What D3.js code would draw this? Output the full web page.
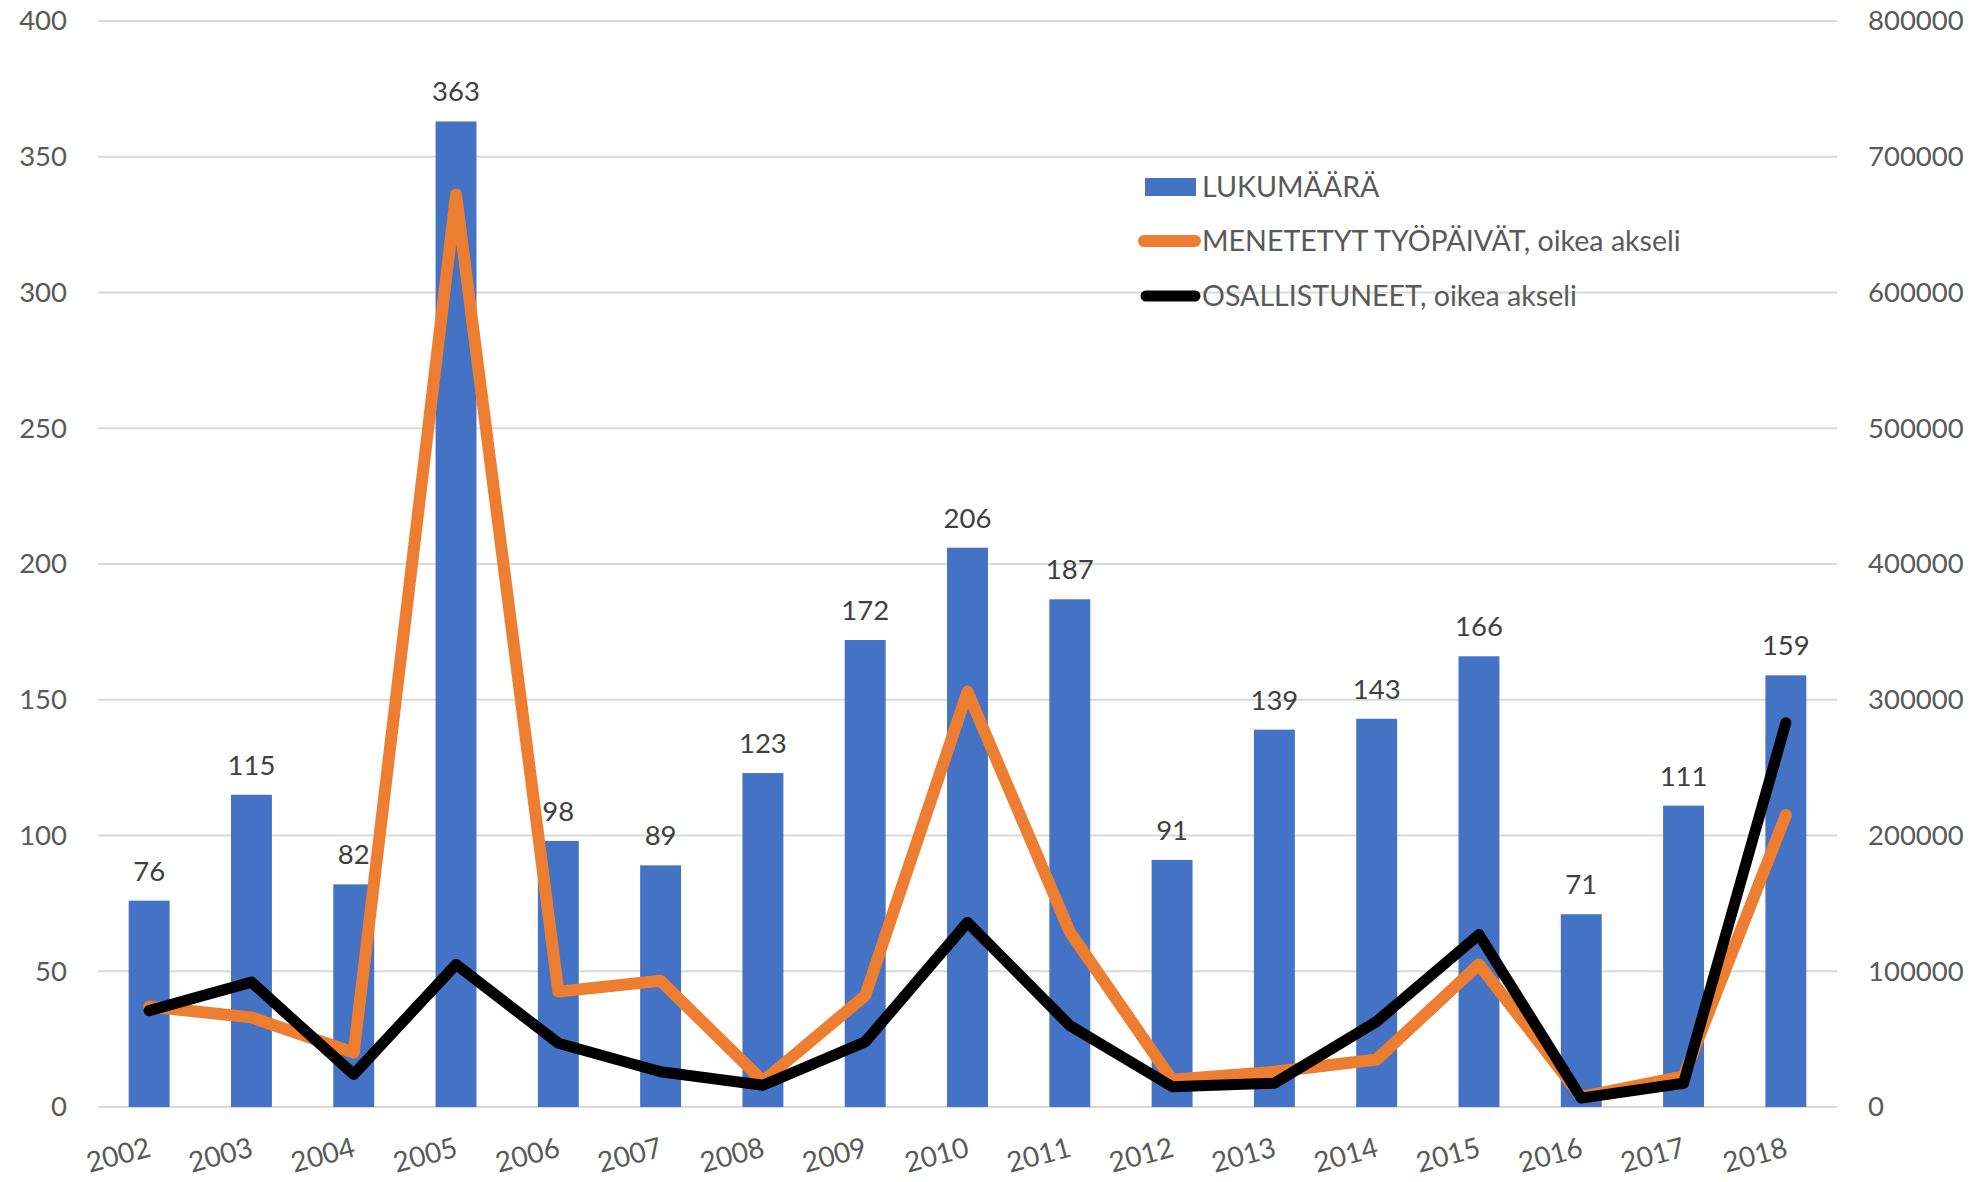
<!DOCTYPE html>
<html>
<head>
<meta charset="utf-8">
<script src="https://cdn.jsdelivr.net/npm/d3@7/dist/d3.min.js"></script>
<style>
  html, body { margin: 0; padding: 0; background: #fff; }
  svg { display: block; }
  text { font-family: Lato, "Open Sans", sans-serif; }
</style>
</head>
<body>
<svg id="chart" width="1983" height="1182"></svg>
<script>
const years = ["2002","2003","2004","2005","2006","2007","2008","2009","2010","2011","2012","2013","2014","2015","2016","2017","2018"];
const lukumaara = [76,115,82,363,98,89,123,172,206,187,91,139,143,166,71,111,159];
const menetetyt = [74000,66000,40000,672000,85000,93000,19000,82000,306000,129000,20000,26000,35000,105000,7500,22500,215000];
const osallistuneet = [71000,92000,24000,105000,47000,26000,16000,48000,136000,60000,15000,17500,63000,127000,6500,17500,283000];
const leftTicks = [0,50,100,150,200,250,300,350,400];
const rightTicks = [0,100000,200000,300000,400000,500000,600000,700000,800000];
const legendLabels = ["LUKUMÄÄRÄ", "MENETETYT TYÖPÄIVÄT, oikea akseli", "OSALLISTUNEET, oikea akseli"];

const BLUE = "#4472C4", ORANGE = "#ED7D31", BLACK = "#000000";
const svg = d3.select("#chart");
const L = 98, R = 1837, T = 21, B = 1107;

const x = d3.scaleBand().domain(years).range([L, R]).paddingInner(0.6).paddingOuter(0.3);
const yL = d3.scaleLinear().domain([0, 400]).range([B, T]);
const yR = d3.scaleLinear().domain([0, 800000]).range([B, T]);

// gridlines
svg.append("g").selectAll("line").data(leftTicks).join("line")
  .attr("x1", L).attr("x2", R)
  .attr("y1", d => yL(d)).attr("y2", d => yL(d))
  .attr("stroke", "#D9D9D9").attr("stroke-width", 2);

// bars
svg.append("g").selectAll("rect").data(lukumaara).join("rect")
  .attr("x", (d, i) => x(years[i]))
  .attr("width", x.bandwidth())
  .attr("y", d => yL(d))
  .attr("height", d => B - yL(d))
  .attr("fill", BLUE);

const cx = i => x(years[i]) + x.bandwidth() / 2;

// lines
const lineR = d3.line().x((d, i) => cx(i)).y(d => yR(d));
svg.append("path").datum(menetetyt).attr("d", lineR)
  .attr("fill", "none").attr("stroke", ORANGE).attr("stroke-width", 12)
  .attr("stroke-linejoin", "round").attr("stroke-linecap", "round");
svg.append("path").datum(osallistuneet).attr("d", lineR)
  .attr("fill", "none").attr("stroke", BLACK).attr("stroke-width", 11)
  .attr("stroke-linejoin", "round").attr("stroke-linecap", "round");

// data labels
svg.append("g").selectAll("text").data(lukumaara).join("text")
  .attr("x", (d, i) => cx(i))
  .attr("y", d => yL(d) - 20)
  .attr("text-anchor", "middle")
  .attr("font-size", 27.5)
  .attr("fill", "#404040")
  .text(d => d);

// left axis
const axL = svg.append("g").attr("transform", `translate(${L},0)`)
  .call(d3.axisLeft(yL).tickValues(leftTicks).tickSize(0).tickPadding(31).tickFormat(d3.format("d")));
axL.select(".domain").remove();
axL.selectAll("text").attr("font-size", 27.5).attr("fill", "#595959").style("font-family", "Lato, sans-serif");

// right axis
const axR = svg.append("g").attr("transform", `translate(${R},0)`)
  .call(d3.axisRight(yR).tickValues(rightTicks).tickSize(0).tickPadding(31).tickFormat(d3.format("d")));
axR.select(".domain").remove();
axR.selectAll("text").attr("font-size", 27.5).attr("fill", "#595959").style("font-family", "Lato, sans-serif");

// x axis labels (rotated)
const axX = svg.append("g").attr("transform", `translate(0,${B})`)
  .call(d3.axisBottom(x).tickSize(0).tickPadding(0));
axX.select(".domain").remove();
axX.selectAll(".tick text")
  .attr("font-size", 28).attr("fill", "#595959").style("font-family", "Lato, sans-serif")
  .attr("text-anchor", "end")
  .attr("dy", null).attr("y", null)
  .attr("transform", "translate(3,49) rotate(-15)");

// legend
const lg = svg.append("g");
const rowsY = [187, 241, 296];
lg.append("rect").attr("x", 1145).attr("y", rowsY[0] - 9).attr("width", 51).attr("height", 18).attr("fill", BLUE);
lg.append("line").attr("x1", 1144).attr("x2", 1195).attr("y1", rowsY[1]).attr("y2", rowsY[1])
  .attr("stroke", ORANGE).attr("stroke-width", 12).attr("stroke-linecap", "round");
lg.append("line").attr("x1", 1146).attr("x2", 1195).attr("y1", rowsY[2]).attr("y2", rowsY[2])
  .attr("stroke", BLACK).attr("stroke-width", 11).attr("stroke-linecap", "round");
lg.selectAll("text").data(legendLabels).join("text")
  .attr("x", 1202).attr("y", (d, i) => rowsY[i] + 10)
  .attr("font-size", 28.6).attr("fill", "#595959")
  .text(d => d);
</script>
</body>
</html>
